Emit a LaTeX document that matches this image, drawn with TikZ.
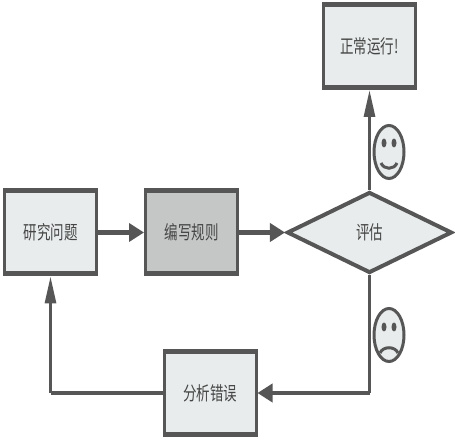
\documentclass[tikz,border=0pt]{standalone}
\usepackage{fontspec}
\newfontfamily\cjk{Noto Sans CJK SC}
\usetikzlibrary{positioning, calc, shapes.geometric, arrows.meta}

\definecolor{boxline}{HTML}{565656}
\definecolor{boxfill}{HTML}{E8ECEC}
\definecolor{boxgrey}{HTML}{C5C7C7}
\definecolor{boxtext}{HTML}{454545}

\newcommand{\tall}[1]{\scalebox{1}[1.4]{#1}}

\tikzset{
    label text/.style={text=boxtext, font=\cjk\fontsize{13.5}{15}\selectfont},
    box/.style={draw=boxline, fill=boxfill, line width=3pt, rectangle, minimum width=92pt, minimum height=85pt, label text,
        path picture={\draw[boxline, line width=7pt] (path picture bounding box.north west) -- (path picture bounding box.north east);
            \draw[boxline, line width=7pt] (path picture bounding box.south west) -- (path picture bounding box.south east);}},
    hline/.style={draw=boxline, line width=4.5pt},
    vline/.style={draw=boxline, line width=3pt},
    htip/.style={-{Triangle[length=15pt, width=18pt]}},
    vtip/.style={-{Triangle[length=27pt, width=11pt]}},
    face/.style={draw=boxline, fill=boxfill, line width=3pt, ellipse, minimum width=30pt, minimum height=53pt, inner sep=0pt},
    eye/.style={fill=boxline},
    mouth/.style={draw=boxline, line width=3pt}
}

\begin{document}
\begin{tikzpicture}[x=1pt, y=1pt]
    \useasboundingbox (0,0) rectangle (455,443);

    % Main row
    \node[box] (research) at (50.5,210.5) {\tall{研究问题}};
    \node[box, fill=boxgrey, right=46pt of research] (rules) {\tall{编写规则}};
    \node[draw=boxline, fill=boxfill, line width=4pt, diamond, minimum width=165pt, minimum height=81pt, inner sep=0pt, label text, right=46pt of rules] (assess) {\tall{评估}};

    % Outcomes
    \node[box, above=100pt of assess] (running) {\tall{正常运行!}};
    \node[box] (analysis) at (210,50) {\tall{分析错误}};
    \coordinate (turnright) at (assess |- analysis);
    \coordinate (turnleft) at (research |- analysis);

    % Connectors
    \draw[hline, htip] (research) -- (rules);
    \draw[hline, htip] (rules) -- (assess);
    \draw[vline, vtip] (assess) -- (running);
    \draw[vline] (assess) -- (turnright);
    \draw[hline, htip] (turnright) -- (analysis);
    \draw[hline] (analysis) -- (turnleft);
    \draw[vline, vtip] (turnleft) -- (research);

    % Faces
    \node[face] (smile) at (389,291) {};
    \fill[eye] ($(smile.center)+(-5,9)$) ellipse (2.5 and 4.5);
    \fill[eye] ($(smile.center)+(5,9)$) ellipse (2.5 and 4.5);
    \draw[mouth] ($(smile.center)+(-8,-11)$) .. controls +(3,-7) and +(-3,-7) .. ($(smile.center)+(8,-11)$);

    \node[face] (frown) at (389,108) {};
    \fill[eye] ($(frown.center)+(-5,8)$) ellipse (2.5 and 4.5);
    \fill[eye] ($(frown.center)+(5,8)$) ellipse (2.5 and 4.5);
    \draw[mouth] ($(frown.center)+(-9,-18)$) .. controls +(3,7) and +(-3,7) .. ($(frown.center)+(9,-18)$);
\end{tikzpicture}
\end{document}
